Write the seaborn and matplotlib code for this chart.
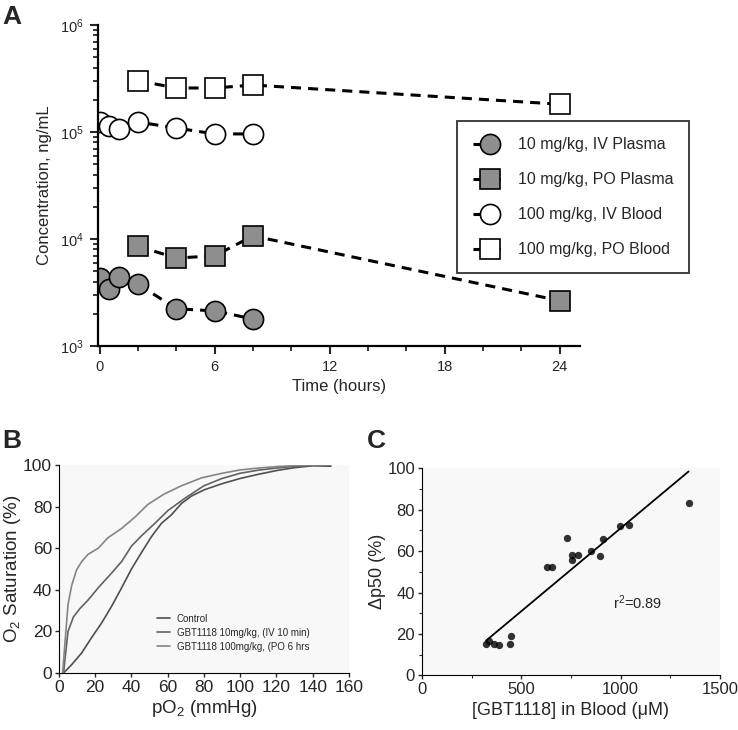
import numpy as np
import matplotlib
matplotlib.use('Agg')
import matplotlib.pyplot as plt
from matplotlib.ticker import MultipleLocator, FixedLocator
import seaborn as sns

# Panel A: pharmacokinetics
times_iv = [0, 0.5, 1, 2, 4, 6, 8]
times_po = [2, 4, 6, 8, 24]
iv_plasma = [4300, 3400, 4400, 3800, 2230, 2130, 1790]
po_plasma = [8550, 6650, 6950, 10700, 2650]
iv_blood = [124000, 114000, 107000, 124000, 109000, 96000, 96000]
po_blood = [302000, 258000, 258000, 275000, 182000]

# Panel B: oxygen equilibrium curves
po2_control = [2.5, 7, 12.5, 18, 23.5, 29, 34.6, 40, 45.6, 51, 56.6, 62, 67.6, 73, 80, 90, 100, 110, 120, 130, 140, 150]
sat_control = [0, 4, 9.6, 17, 24, 32, 41, 50, 58, 65.5, 72, 76, 81.5, 85, 88, 91, 93.5, 95.5, 97.3, 98.7, 99.6, 99.4]
po2_10 = [2.5, 5, 8, 11.6, 16, 21.7, 29, 34.6, 40, 45.6, 53, 60, 69.5, 80, 90, 100, 110, 120, 130, 140, 150]
sat_10 = [0, 20, 27, 31, 35, 41, 48, 53.6, 61, 66, 72, 78, 84, 90, 93.5, 96, 97.5, 98.5, 99.3, 99.8, 100]
po2_100 = [2, 5, 7, 9.7, 12.5, 16, 21.7, 27, 34.6, 42, 49, 58, 67.6, 78.7, 90, 100, 110, 120, 130, 140, 150]
sat_100 = [0, 33, 42, 49.5, 53.5, 57, 60, 65, 69.5, 75, 81, 86, 90, 93.8, 96, 97.6, 98.5, 99.2, 99.7, 100, 100]

# Panel C: dp50 vs blood concentration
conc_blood = [322, 337, 360, 388, 442, 447, 628, 652, 732, 755, 757, 783, 850, 895, 913, 997, 1042, 1342]
dp50 = [15.0, 16.5, 15.3, 14.5, 15.2, 18.9, 52.1, 52.1, 66.5, 55.6, 58.1, 57.9, 60.2, 57.4, 66.0, 72.3, 72.6, 83.4]

sns.set_style('ticks')
plt.rcParams['font.family'] = ['Liberation Sans', 'DejaVu Sans']
plt.rcParams['mathtext.fontset'] = 'custom'
plt.rcParams['mathtext.rm'] = 'Liberation Sans'
plt.rcParams['mathtext.it'] = 'Liberation Sans:italic'

fig = plt.figure(figsize=(7.38, 7.30), dpi=100)
axA = fig.add_axes([0.1328, 0.526, 0.653, 0.4397])
axB = fig.add_axes([0.0799, 0.0781, 0.393, 0.285])
axC = fig.add_axes([0.5718, 0.0747, 0.4038, 0.284])

# ---- A ----
gray = '#8e8e8e'
dash = (0, (3.3, 2.3))
series = [
    (times_iv, iv_plasma, 'o', gray, '10 mg/kg, IV Plasma'),
    (times_po, po_plasma, 's', gray, '10 mg/kg, PO Plasma'),
    (times_iv, iv_blood, 'o', 'white', '100 mg/kg, IV Blood'),
    (times_po, po_blood, 's', 'white', '100 mg/kg, PO Blood'),
]
for x, y, m, fc, lab in series:
    sns.lineplot(x=x, y=y, ax=axA, color='black', linestyle=dash, linewidth=2.2,
                 marker=m, markersize=14.5, markerfacecolor=fc,
                 markeredgecolor='black', markeredgewidth=1.2, label=lab)
axA.set_yscale('log')
axA.set_ylim(1e3, 1e6)
axA.set_xlim(-0.08, 25.05)
axA.xaxis.set_major_locator(FixedLocator([0, 6, 12, 18, 24]))
axA.xaxis.set_minor_locator(MultipleLocator(2))
axA.tick_params(which='major', length=6, width=1.5, labelsize=10.5, pad=4)
axA.tick_params(which='minor', length=3.5, width=1.3)
for s in ['left', 'bottom']:
    axA.spines[s].set_linewidth(1.6)
sns.despine(ax=axA)
axA.set_xlabel('Time (hours)', fontsize=12, labelpad=4)
axA.set_ylabel('Concentration, ng/mL', fontsize=12, labelpad=6)
legA = axA.legend(loc='upper left', bbox_to_anchor=(0.745, 0.70), borderaxespad=0,
                  fontsize=11.5, frameon=True, fancybox=False, edgecolor='black',
                  labelspacing=1.25, handlelength=2.1, handletextpad=0.7, borderpad=1.0)
legA.get_frame().set_linewidth(1.3)

# ---- B ----
curves = [
    (po2_control, sat_control, '#4f4f4f', 'Control'),
    (po2_10, sat_10, '#626262', 'GBT1118 10mg/kg, (IV 10 min)'),
    (po2_100, sat_100, '#858585', 'GBT1118 100mg/kg, (PO 6 hrs'),
]
for x, y, c, lab in curves:
    sns.lineplot(x=x, y=y, ax=axB, color=c, linewidth=1.2, sort=False, label=lab)
axB.set_facecolor('#f8f8f8')
axB.set_xlim(0, 160)
axB.set_ylim(0, 100)
axB.xaxis.set_major_locator(MultipleLocator(20))
axB.yaxis.set_major_locator(MultipleLocator(20))
axB.tick_params(length=3, width=1, labelsize=12.5, pad=2)
sns.despine(ax=axB)
axB.set_xlabel('pO$_2$ (mmHg)', fontsize=13.5, labelpad=2)
axB.set_ylabel('O$_2$ Saturation (%)', fontsize=13.5, labelpad=0)
axB.legend(loc='upper left', bbox_to_anchor=(0.338, 0.284), borderaxespad=0,
           frameon=False, fontsize=7, borderpad=0, handlelength=1.35,
           handletextpad=0.7, labelspacing=0.4)

# ---- C ----
sns.regplot(x=conc_blood, y=dp50, ax=axC, ci=None, color='black',
            scatter_kws={'s': 28, 'linewidths': 0},
            line_kws={'linewidth': 1.3})
axC.set_facecolor('#f8f8f8')
axC.set_xlim(0, 1500)
axC.set_ylim(0, 100)
axC.xaxis.set_major_locator(MultipleLocator(500))
axC.xaxis.set_minor_locator(MultipleLocator(250))
axC.yaxis.set_major_locator(MultipleLocator(20))
axC.yaxis.set_minor_locator(MultipleLocator(10))
axC.tick_params(which='major', length=3, width=1, labelsize=12, pad=2)
axC.tick_params(which='minor', length=2, width=0.8)
sns.despine(ax=axC)
axC.set_xlabel('[GBT1118] in Blood (μM)', fontsize=13, labelpad=3)
axC.set_ylabel('Δp50 (%)', fontsize=13, labelpad=1)
axC.text(1087, 35, 'r$^2$=0.89', fontsize=10.5, ha='center', va='center')

for ax in (axA, axB, axC):
    for s in ['left', 'bottom']:
        ax.spines[s].set_color('black')

fig.text(0.003, 0.993, 'A', fontsize=19, fontweight='bold', va='top')
fig.text(0.003, 0.413, 'B', fontsize=19, fontweight='bold', va='top')
fig.text(0.497, 0.413, 'C', fontsize=19, fontweight='bold', va='top')

fig.savefig('out.png', dpi=100)
